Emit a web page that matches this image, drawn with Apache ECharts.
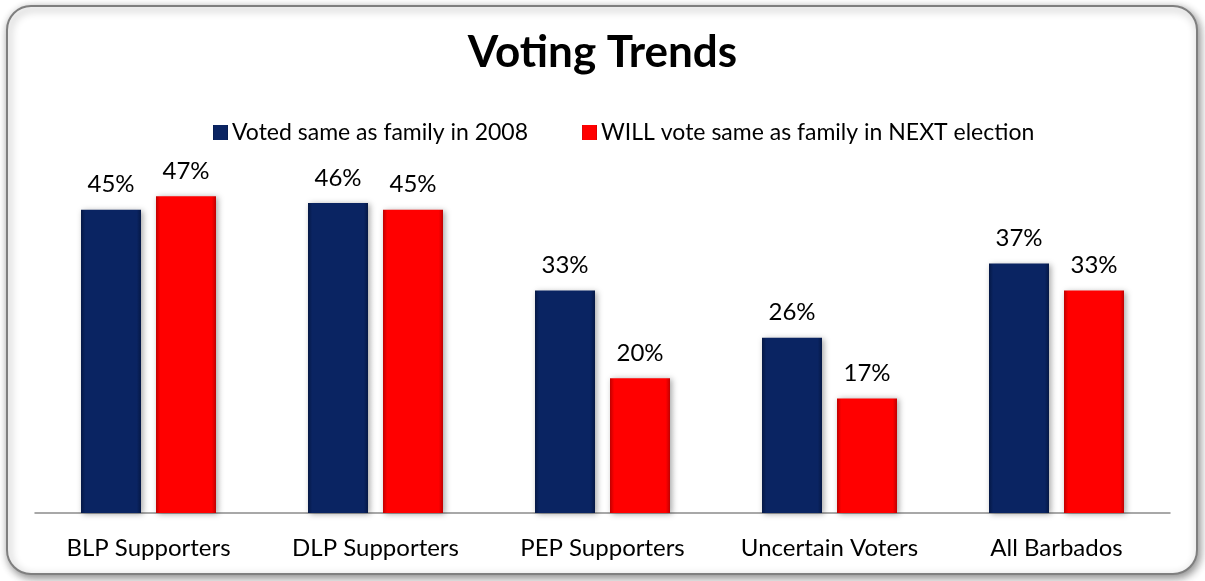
<!DOCTYPE html>
<html><head><meta charset="utf-8">
<script src="https://cdn.jsdelivr.net/npm/echarts@6/dist/echarts.min.js"></script>
<style>html,body{margin:0;padding:0;background:#fff}#c{width:1205px;height:581px}</style>
</head><body><div id="c"></div>
<script>
const categories = ['BLP Supporters','DLP Supporters','PEP Supporters','Uncertain Voters','All Barbados'];
const seriesNames = ['Voted same as family in 2008','WILL vote same as family in NEXT election'];
const voted2008 = [45,46,33,26,37];
const willVoteNext = [47,45,20,17,33];
const chart = echarts.init(document.getElementById('c'));
const FONT = 'Lato, "Open Sans", sans-serif';
function barStyle(mid, edge){
  return {
    color: {type:'linear',x:0,y:0,x2:1,y2:0,colorStops:[{offset:0,color:edge},{offset:0.07,color:mid},{offset:0.93,color:mid},{offset:1,color:edge}]},
    shadowColor:'rgba(0,0,0,0.35)', shadowBlur:6, shadowOffsetX:2, shadowOffsetY:1
  };
}
chart.setOption({
  backgroundColor:'#fff',
  animation:false,
  graphic:[{type:'rect',left:6,top:5,shape:{width:1190,height:568,r:24},
    style:{fill:'#fff',stroke:'#7f7f7f',lineWidth:2,shadowBlur:8,shadowColor:'rgba(0,0,0,0.45)',shadowOffsetX:2,shadowOffsetY:3},z:-10}],
  title:{text:'Voting Trends',left:'center',top:26,textStyle:{fontFamily:FONT,fontSize:44,fontWeight:'bold',color:'#000'}},
  legend:{top:116,left:208,itemWidth:15,itemHeight:15,itemGap:54,icon:'rect',
    textStyle:{fontFamily:FONT,fontSize:23,color:'#000',padding:[0,0,0,-1]},data:seriesNames},
  grid:{left:35,right:35,top:176,bottom:68},
  xAxis:{type:'category',data:categories,axisLine:{lineStyle:{color:'#8c8c8c',width:1.5}},axisTick:{show:false},
    axisLabel:{fontFamily:FONT,fontSize:24,color:'#000',margin:23,interval:0}},
  yAxis:{type:'value',min:0,max:50,show:false,splitLine:{show:false}},
  series:[
    {name:seriesNames[0],type:'bar',data:voted2008,barWidth:60,barGap:'25%',
      itemStyle:barStyle('#0a2462','#051845'),
      label:{show:true,position:'top',distance:13,formatter:'{c}%',fontFamily:FONT,fontSize:24,color:'#000'}},
    {name:seriesNames[1],type:'bar',data:willVoteNext,barWidth:60,
      itemStyle:barStyle('#ff0000','#c00000'),
      label:{show:true,position:'top',distance:13,formatter:'{c}%',fontFamily:FONT,fontSize:24,color:'#000'}}
  ]
});
</script></body></html>
